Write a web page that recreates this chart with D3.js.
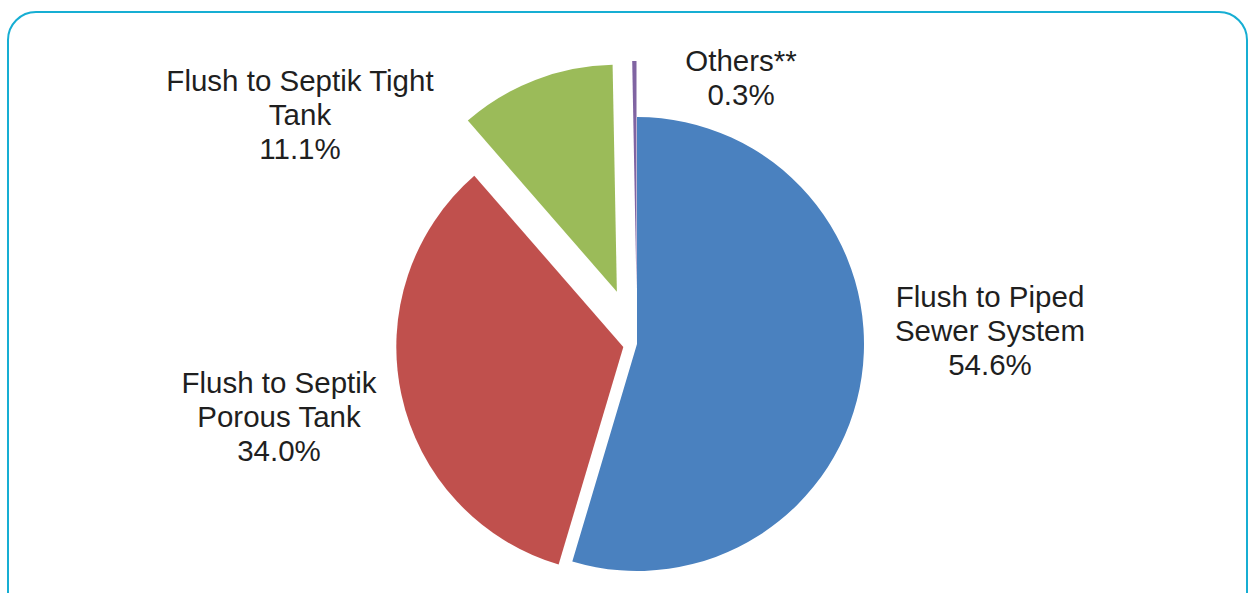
<!DOCTYPE html>
<html>
<head>
<meta charset="utf-8">
<script src="https://cdn.jsdelivr.net/npm/d3@7"></script>
<style>
  html, body { margin: 0; padding: 0; background: #fff; }
  svg { display: block; }
</style>
</head>
<body>
<svg id="chart" width="1250" height="593"></svg>
<script>
// ---- data ----
const categories = ["Flush to Piped Sewer System", "Flush to Septik Porous Tank", "Flush to Septik Tight Tank", "Others**"];
const values = [54.6, 34.0, 11.1, 0.3];
const labelLines = [
  ["Flush to Piped", "Sewer System"],
  ["Flush to Septik", "Porous Tank"],
  ["Flush to Septik Tight", "Tank"],
  ["Others**"]
];

// ---- layout / style ----
const colors = ["#4A81BF", "#C0504D", "#9BBB59", "#8064A2"];
const explodeBy = [0, 14, 56, 56];
const labelPos = [[990, 307], [279, 393], [300, 91], [741, 71]];
const cx = 637, cy = 344, R = 227;
const fontSize = 29.5, lineH = 34;

const svg = d3.select("#chart");

svg.append("rect")
  .attr("x", 8).attr("y", 12)
  .attr("width", 1239).attr("height", 610)
  .attr("rx", 28).attr("ry", 28)
  .attr("fill", "#fff")
  .attr("stroke", "#16AED3")
  .attr("stroke-width", 2);

const pie = d3.pie().sort(null).value(d => d)(values);
const arc = d3.arc().innerRadius(0).outerRadius(R);

const g = svg.append("g").attr("transform", `translate(${cx},${cy})`);
g.selectAll("path").data(pie).join("path")
  .attr("d", arc)
  .attr("fill", (d, i) => colors[i])
  .attr("transform", (d, i) => {
    const a = (d.startAngle + d.endAngle) / 2;
    const off = explodeBy[i];
    return `translate(${off * Math.sin(a)},${-off * Math.cos(a)})`;
  });

const fmt = d3.format(".1f");
categories.forEach((c, i) => {
  const lines = labelLines[i].concat([fmt(values[i]) + "%"]);
  const t = svg.append("text")
    .attr("x", labelPos[i][0])
    .attr("y", labelPos[i][1])
    .attr("text-anchor", "middle")
    .attr("font-family", "'Liberation Sans', Arial, sans-serif")
    .attr("font-size", fontSize)
    .attr("fill", "#1f1f1f");
  lines.forEach((l, k) => {
    t.append("tspan").attr("x", labelPos[i][0]).attr("y", labelPos[i][1] + k * lineH).text(l);
  });
});
</script>
</body>
</html>
